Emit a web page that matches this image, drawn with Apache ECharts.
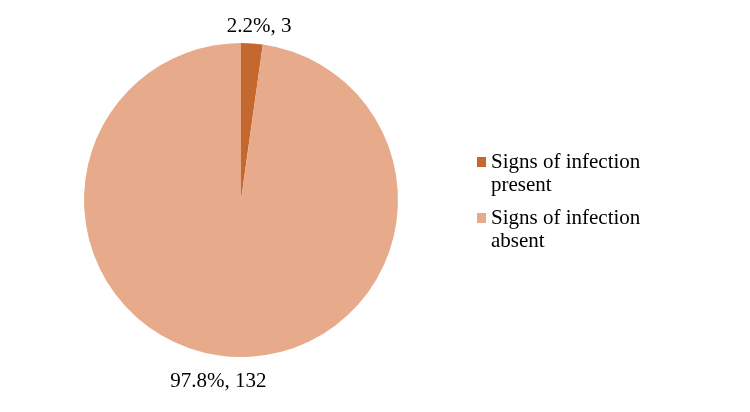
<!DOCTYPE html>
<html>
<head>
<meta charset="utf-8">
<script src="https://cdn.jsdelivr.net/npm/echarts@6/dist/echarts.min.js"></script>
<style>html,body{margin:0;padding:0;background:#fff;}#chart{width:750px;height:412px;}</style>
</head>
<body>
<div id="chart"></div>
<script>
const categories = ['Signs of infection\npresent', 'Signs of infection\nabsent'];
const counts = [3, 132];
const colors = ['#C4682F', '#E7AB8B'];
const labelLines = [{ length: 17, length2: 6 }, { length: 25, length2: 10 }];

const chart = echarts.init(document.getElementById('chart'));
const font = '"Liberation Serif", "Times New Roman", serif';
chart.setOption({
  backgroundColor: '#ffffff',
  animation: false,
  legend: {
    orient: 'vertical',
    left: 472,
    top: 122.5,
    icon: 'rect',
    itemWidth: 9,
    itemHeight: 10,
    itemGap: -13,
    data: categories,
    formatter: function (name) { return '\n' + name; },
    textStyle: {
      fontFamily: font,
      fontSize: 21,
      lineHeight: 23,
      color: '#000'
    }
  },
  series: [{
    type: 'pie',
    center: [241, 200],
    radius: 157,
    startAngle: 90,
    clockwise: true,
    avoidLabelOverlap: false,
    percentPrecision: 1,
    label: {
      show: true,
      position: 'outside',
      distanceToLabelLine: 0,
      formatter: function (p) { return p.percent.toFixed(1) + '%, ' + p.value; },
      fontFamily: font,
      fontSize: 21,
      color: '#000'
    },
    labelLine: { show: false },
    labelLayout: { align: 'center' },
    itemStyle: { borderWidth: 0 },
    data: categories.map(function (c, i) {
      return {
        name: c,
        value: counts[i],
        itemStyle: { color: colors[i] },
        labelLine: { show: false, length: labelLines[i].length, length2: labelLines[i].length2 }
      };
    })
  }]
});
</script>
</body>
</html>
